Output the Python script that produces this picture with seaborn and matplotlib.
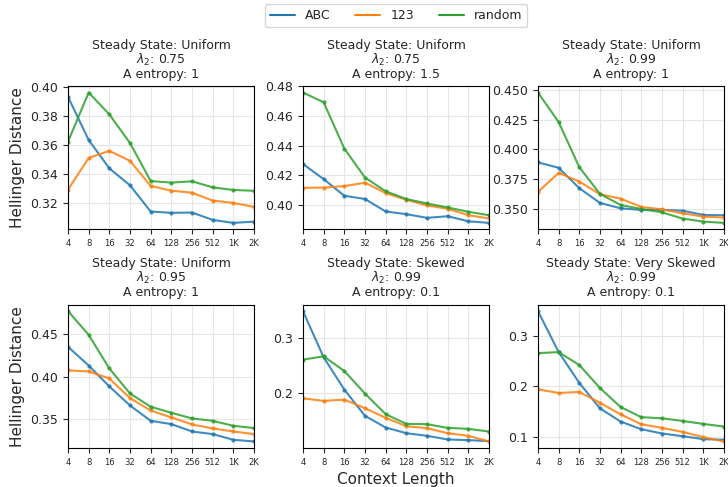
import numpy as np
import pandas as pd
import matplotlib
matplotlib.use("Agg")
import matplotlib.pyplot as plt
import seaborn as sns

# Context lengths on the x axis and their tick labels
context = [4, 8, 16, 32, 64, 128, 256, 512, 1024, 2048]
context_labels = ["4", "8", "16", "32", "64", "128", "256", "512", "1K", "2K"]

methods = ["ABC", "123", "random"]

# Panel settings: steady state, lambda_2, A entropy
steady_states = ["Uniform", "Uniform", "Uniform", "Uniform", "Skewed", "Very Skewed"]
lambdas = ["0.75", "0.75", "0.99", "0.95", "0.99", "0.99"]
entropies = ["1", "1.5", "1", "1", "0.1", "0.1"]

# Hellinger distance per panel, one list per method
abc = [
    [0.3935, 0.3635, 0.3438, 0.3320, 0.3138, 0.3129, 0.3131, 0.3080, 0.3059, 0.3068],
    [0.4277, 0.4175, 0.4063, 0.4041, 0.3957, 0.3939, 0.3914, 0.3925, 0.3891, 0.3880],
    [0.3889, 0.3844, 0.3672, 0.3548, 0.3503, 0.3489, 0.3489, 0.3483, 0.3447, 0.3444],
    [0.4354, 0.4133, 0.3886, 0.3661, 0.3480, 0.3441, 0.3354, 0.3323, 0.3256, 0.3236],
    [0.3479, 0.2647, 0.2066, 0.1593, 0.1383, 0.1281, 0.1234, 0.1168, 0.1156, 0.1138],
    [0.3492, 0.2680, 0.2069, 0.1564, 0.1302, 0.1151, 0.1066, 0.1013, 0.0954, 0.0941],
]
num123 = [
    [0.3290, 0.3510, 0.3560, 0.3490, 0.3316, 0.3283, 0.3269, 0.3214, 0.3198, 0.3170],
    [0.4116, 0.4118, 0.4128, 0.4151, 0.4081, 0.4036, 0.3998, 0.3975, 0.3932, 0.3910],
    [0.3641, 0.3801, 0.3728, 0.3621, 0.3584, 0.3514, 0.3494, 0.3461, 0.3433, 0.3425],
    [0.4075, 0.4063, 0.3980, 0.3748, 0.3602, 0.3520, 0.3437, 0.3390, 0.3354, 0.3323],
    [0.1910, 0.1862, 0.1886, 0.1730, 0.1557, 0.1407, 0.1371, 0.1281, 0.1234, 0.1132],
    [0.1941, 0.1869, 0.1889, 0.1675, 0.1446, 0.1250, 0.1177, 0.1098, 0.0993, 0.0908],
]
rand = [
    [0.3623, 0.3965, 0.3813, 0.3614, 0.3350, 0.3339, 0.3348, 0.3306, 0.3288, 0.3282],
    [0.4759, 0.4693, 0.4381, 0.4186, 0.4093, 0.4041, 0.4011, 0.3984, 0.3955, 0.3932],
    [0.4477, 0.4229, 0.3849, 0.3624, 0.3531, 0.3497, 0.3469, 0.3416, 0.3391, 0.3380],
    [0.4776, 0.4496, 0.4098, 0.3803, 0.3646, 0.3575, 0.3508, 0.3480, 0.3421, 0.3394],
    [0.2605, 0.2665, 0.2401, 0.1994, 0.1623, 0.1449, 0.1443, 0.1377, 0.1359, 0.1311],
    [0.2659, 0.2679, 0.2423, 0.1967, 0.1590, 0.1390, 0.1367, 0.1315, 0.1256, 0.1203],
]

rows = []
for p in range(6):
    for name, series in zip(methods, [abc, num123, rand]):
        for c, v in zip(context, series[p]):
            rows.append({"panel": p, "method": name, "context": c, "hellinger": v})
df = pd.DataFrame(rows)

sns.set_style("ticks")
plt.rcParams["font.family"] = ["DejaVu Sans"]
palette = dict(zip(methods, sns.color_palette("tab10", 3)))

fig, axes = plt.subplots(2, 3, figsize=(7.28, 4.87), dpi=100)
fig.subplots_adjust(left=0.0934, right=0.9945, top=0.8234, bottom=0.0801,
                    wspace=0.263, hspace=0.524)

for p, ax in enumerate(axes.flat):
    sub = df[df["panel"] == p]
    sns.lineplot(data=sub, x="context", y="hellinger", hue="method",
                 hue_order=methods, palette=palette, marker="o", markersize=3,
                 markeredgewidth=0, linewidth=1.5, alpha=0.85, ax=ax, legend=False)
    ax.set_xscale("log", base=2)
    ax.set_xlim(context[0], context[-1])
    ax.set_xticks(context)
    ax.set_xticklabels(context_labels)
    ax.xaxis.set_minor_locator(matplotlib.ticker.NullLocator())
    ax.tick_params(axis="x", labelsize=6)
    ax.tick_params(axis="y", labelsize=9)
    ax.grid(True, color="#e6e6e6", linewidth=0.8)
    ax.set_axisbelow(True)
    for s in ax.spines.values():
        s.set_visible(True)
        s.set_color("black")
        s.set_linewidth(0.8)
    ax.set_title(f"Steady State: {steady_states[p]}\n$\\lambda_2$: {lambdas[p]}\nA entropy: {entropies[p]}",
                 fontsize=9, linespacing=1.0)
    ax.set_xlabel("")
    ax.set_ylabel("")

for ax in axes[:, 0]:
    ax.set_ylabel("Hellinger Distance", fontsize=11)
axes[1, 1].set_xlabel("Context Length", fontsize=11)

handles = [matplotlib.lines.Line2D([], [], color=palette[m], linewidth=1.5) for m in methods]
fig.legend(handles, methods, loc="upper center", bbox_to_anchor=(396 / 728, 1.004),
           ncol=3, fontsize=9, frameon=True)

fig.savefig("out.png", dpi=100)
